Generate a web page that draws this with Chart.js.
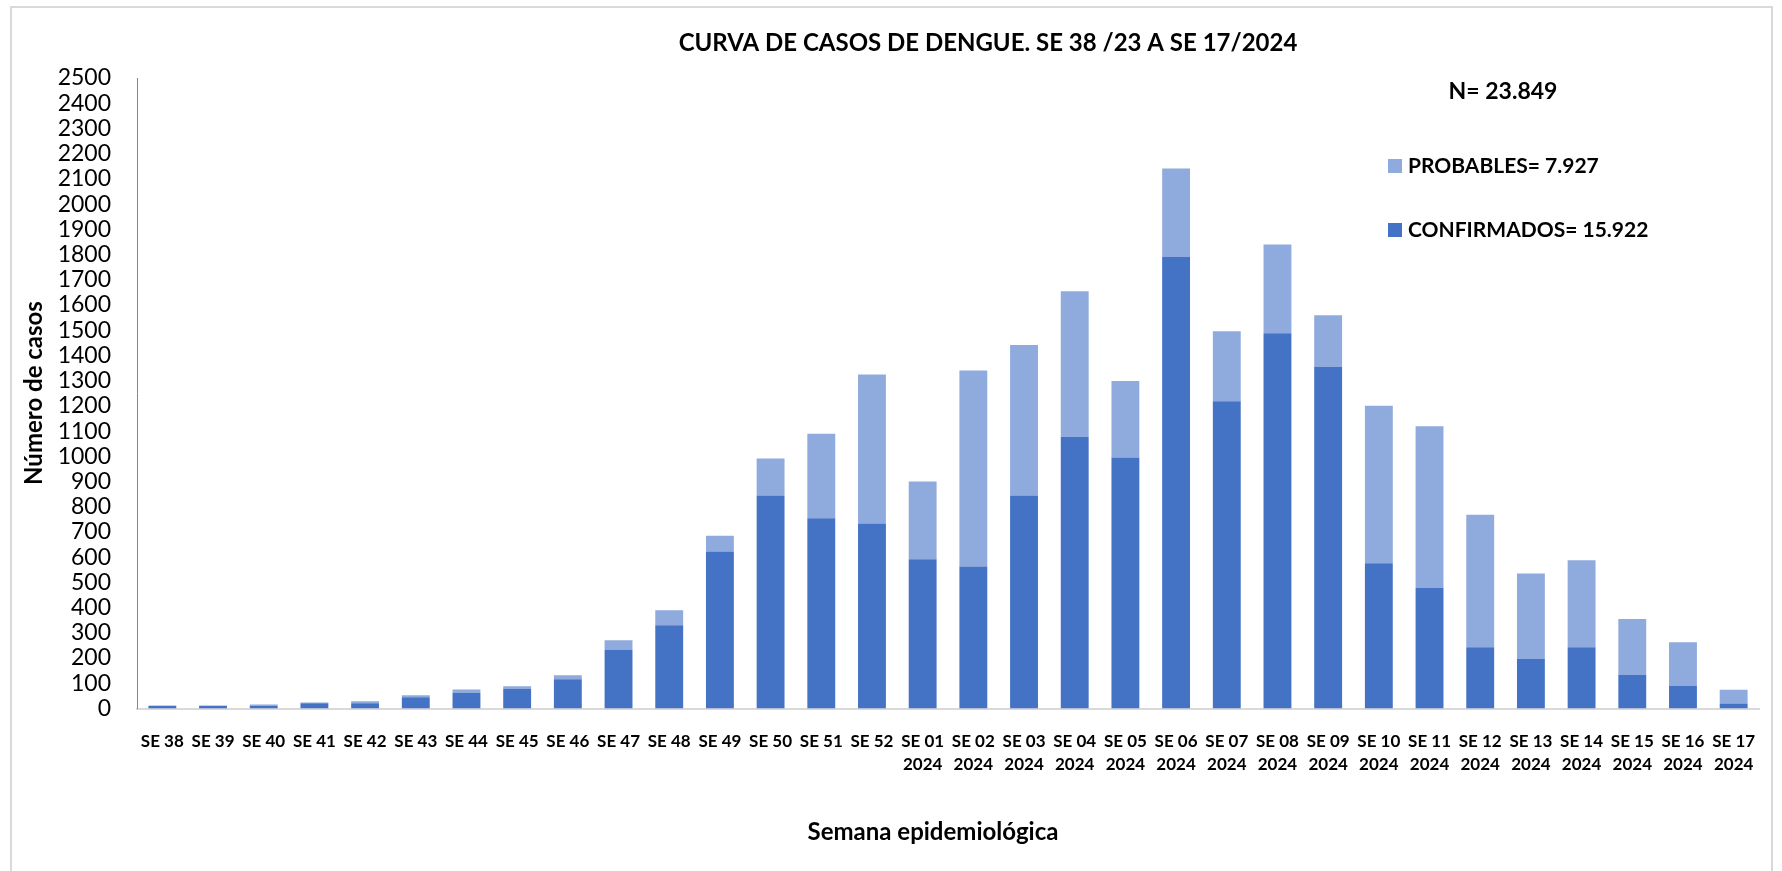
<!DOCTYPE html>
<html>
<head>
<meta charset="utf-8">
<script src="https://cdn.jsdelivr.net/npm/chart.js@4.4.1/dist/chart.umd.min.js"></script>
<style>
  html, body { margin: 0; padding: 0; background: #fff; }
  #grafico { display: block; }
</style>
</head>
<body>
<canvas id="grafico" width="1782" height="871"></canvas>
<script>
// semanas epidemiologicas
const semanas = [
  'SE 38', 'SE 39', 'SE 40', 'SE 41', 'SE 42', 'SE 43', 'SE 44', 'SE 45', 'SE 46',
  'SE 47', 'SE 48', 'SE 49', 'SE 50', 'SE 51', 'SE 52',
  ['SE 01', '2024'], ['SE 02', '2024'], ['SE 03', '2024'], ['SE 04', '2024'],
  ['SE 05', '2024'], ['SE 06', '2024'], ['SE 07', '2024'], ['SE 08', '2024'],
  ['SE 09', '2024'], ['SE 10', '2024'], ['SE 11', '2024'], ['SE 12', '2024'],
  ['SE 13', '2024'], ['SE 14', '2024'], ['SE 15', '2024'], ['SE 16', '2024'],
  ['SE 17', '2024']
];

const confirmados = [10, 10, 11, 21, 21, 45, 61, 77, 116, 232, 330, 623, 845, 754, 734,
  592, 563, 845, 1078, 995, 1790, 1218, 1488, 1355, 576, 479, 243, 196, 243, 133, 89, 20];

const probables = [2, 2, 5, 3, 8, 8, 14, 11, 16, 39, 60, 62, 146, 335, 590,
  308, 777, 596, 576, 304, 351, 278, 352, 204, 624, 640, 525, 339, 345, 222, 174, 54];

const titulo = 'CURVA DE CASOS DE DENGUE. SE 38 /23 A SE 17/2024';
const totalTexto = 'N= 23.849';
const legendas = ['PROBABLES= 7.927', 'CONFIRMADOS= 15.922'];

const corConfirmados = '#4472C4';
const corProbables = '#8FAADC';

const fonte = 'Lato, "Open Sans", sans-serif';

// textos extras e borda do quadro
const textosPlugin = {
  id: 'textos',
  beforeDraw(chart) {
    const ctx = chart.ctx;
    ctx.save();
    ctx.fillStyle = '#ffffff';
    ctx.fillRect(0, 0, chart.width, chart.height);
    ctx.strokeStyle = '#d9d9d9';
    ctx.lineWidth = 2;
    ctx.strokeRect(11, 7, 1761, 900);
    ctx.restore();
  },
  afterDraw(chart) {
    const ctx = chart.ctx;
    ctx.save();
    ctx.fillStyle = '#000';
    ctx.textBaseline = 'middle';
    ctx.textAlign = 'center';

    ctx.font = 'bold 24px ' + fonte;
    ctx.fillText(titulo, 988, 43);

    ctx.font = 'bold 23px ' + fonte;
    ctx.fillText(totalTexto, 1503, 92);

    ctx.font = 'bold 24px ' + fonte;
    // eixo x
    ctx.fillText('Semana epidemiológica', 933, 832);

    // eixo y
    ctx.save();
    ctx.translate(34, 393);
    ctx.rotate(-Math.PI / 2);
    ctx.fillText('Número de casos', 0, 0);
    ctx.restore();

    // legenda
    const cores = [corProbables, corConfirmados];
    const ys = [166, 230];
    ctx.textAlign = 'left';
    ctx.font = 'bold 21px ' + fonte;
    legendas.forEach((txt, i) => {
      ctx.fillStyle = cores[i];
      ctx.fillRect(1388, ys[i] - 7, 14, 14);
      ctx.fillStyle = '#000';
      ctx.fillText(txt, 1408, ys[i]);
    });
    ctx.restore();
  }
};

new Chart(document.getElementById('grafico'), {
  type: 'bar',
  data: {
    labels: semanas,
    datasets: [
      {
        label: 'CONFIRMADOS',
        data: confirmados,
        backgroundColor: corConfirmados,
        borderWidth: 0
      },
      {
        label: 'PROBABLES',
        data: probables,
        backgroundColor: corProbables,
        borderWidth: 0
      }
    ]
  },
  options: {
    responsive: false,
    animation: false,
    devicePixelRatio: 1,
    layout: { padding: { top: 78, left: 0, right: 23, bottom: 0 } },
    datasets: {
      bar: { categoryPercentage: 0.55, barPercentage: 1 }
    },
    plugins: {
      legend: { display: false },
      title: { display: false },
      tooltip: { enabled: false }
    },
    scales: {
      x: {
        stacked: true,
        grid: { display: false },
        border: { display: true, color: '#d9d9d9', width: 2 },
        ticks: {
          autoSkip: false,
          maxRotation: 0,
          minRotation: 0,
          padding: 14,
          color: '#000',
          font: { family: fonte, size: 17, weight: 'bold', lineHeight: 1.35 }
        },
        afterFit(scale) { scale.height = 871 - 708.5; }
      },
      y: {
        stacked: true,
        min: 0,
        max: 2500,
        grid: { display: false },
        border: { display: true, color: '#868686', width: 1 },
        ticks: {
          stepSize: 100,
          autoSkip: false,
          padding: 18,
          color: '#000',
          font: { family: fonte, size: 23 },
          callback: (v) => String(v)
        },
        afterFit(scale) { scale.width = 137; }
      }
    }
  },
  plugins: [textosPlugin]
});
</script>
</body>
</html>
